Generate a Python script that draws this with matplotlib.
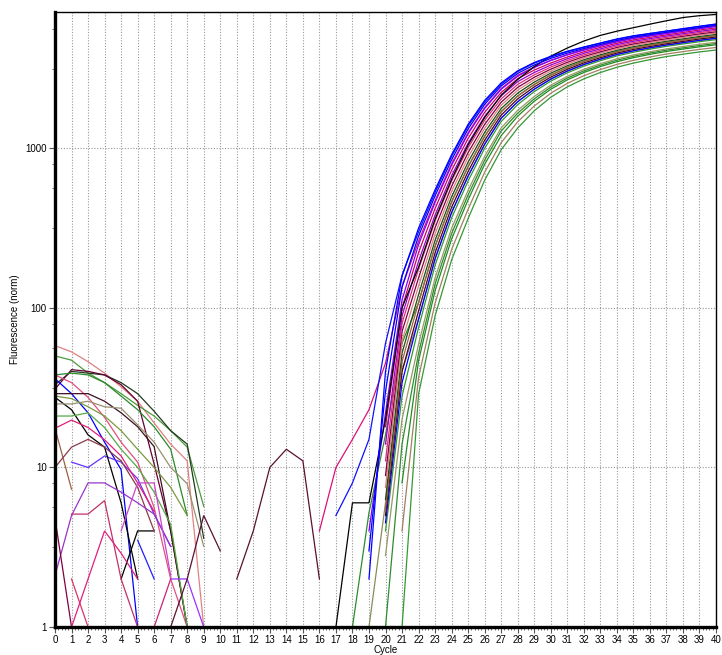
import numpy as np
import matplotlib
matplotlib.use("Agg")
import matplotlib.pyplot as plt
from matplotlib import ticker

plt.rcParams["font.family"] = ["Liberation Sans", "DejaVu Sans"]

# cycles 0..40, normalised fluorescence per well
cycles = np.arange(41)

# --- amplification part (start cycle, values) ---
amp_t000 = [2, 40, 158, 316, 550, 912, 1413, 1995, 2570, 3060, 3450, 3770, 4060, 4315, 4571, 4842, 5070, 5248, 5433, 5623, 5821, 6012]
amp_t005 = [3, 30, 135, 282, 504, 847, 1323, 1886, 2457, 2950, 3330, 3660, 3950, 4218, 4476, 4743, 4972, 5150, 5334, 5521, 5715, 5903]
amp_t010 = [4, 22, 112, 249, 458, 783, 1233, 1778, 2344, 2830, 3210, 3550, 3850, 4121, 4381, 4645, 4875, 5053, 5236, 5420, 5610, 5794]
amp_t015 = [18, 100, 222, 420, 728, 1154, 1681, 2238, 2731, 3092, 3425, 3733, 4028, 4290, 4556, 4781, 4960, 5141, 5322, 5509, 5683]
amp_t020 = [14, 89, 196, 382, 673, 1076, 1585, 2133, 2618, 2985, 3327, 3639, 3936, 4198, 4467, 4688, 4866, 5047, 5224, 5408, 5572]
amp_t025 = [11, 80, 175, 350, 625, 1008, 1499, 2039, 2514, 2885, 3230, 3549, 3847, 4110, 4376, 4598, 4776, 4955, 5130, 5310, 5471]
amp_t030 = [8.9, 71, 154, 318, 578, 940, 1413, 1945, 2410, 2786, 3133, 3459, 3758, 4023, 4285, 4508, 4686, 4864, 5035, 5212, 5370]
amp_t035 = [7.5, 62, 137, 291, 537, 880, 1336, 1860, 2314, 2693, 3045, 3374, 3673, 3939, 4198, 4421, 4599, 4776, 4944, 5117, 5273]
amp_t040 = [6.3, 52, 121, 265, 497, 820, 1259, 1774, 2218, 2600, 2958, 3289, 3589, 3855, 4111, 4335, 4512, 4688, 4853, 5023, 5176]
amp_t045 = [5.5, 46, 108, 243, 462, 768, 1190, 1694, 2130, 2513, 2875, 3207, 3508, 3774, 4032, 4250, 4428, 4603, 4765, 4932, 5080]
amp_t050 = [5, 40, 95.5, 221, 427, 716, 1122, 1614, 2042, 2427, 2793, 3126, 3428, 3694, 3954, 4165, 4345, 4519, 4677, 4842, 4984]
amp_t055 = [4.5, 34, 85, 203, 396, 670, 1061, 1543, 1960, 2346, 2714, 3049, 3350, 3617, 3873, 4082, 4264, 4437, 4592, 4749, 4890]
amp_t060 = [4, 28, 75.2, 185, 366, 625, 1000, 1472, 1879, 2265, 2636, 2972, 3273, 3540, 3793, 4000, 4184, 4355, 4508, 4656, 4797]
amp_t070 = [2.8, 20, 59.2, 154, 315, 546, 891, 1343, 1730, 2113, 2489, 2825, 3126, 3392, 3639, 3846, 4029, 4198, 4345, 4487, 4624]
amp_t075 = [1, 14, 52, 141, 292, 511, 842, 1284, 1661, 2042, 2416, 2755, 3055, 3321, 3565, 3772, 3954, 4122, 4266, 4406, 4540]
amp_t080 = [8, 46.6, 128, 270, 476, 794, 1200, 1592, 1972, 2344, 2685, 2985, 3251, 3491, 3698, 3880, 4046, 4188, 4325, 4457]
amp_t090 = [4, 36.6, 107, 232, 416, 708, 1085, 1466, 1841, 2213, 2553, 2851, 3116, 3357, 3556, 3736, 3899, 4036, 4169, 4285]
amp_t100 = [1, 28.8, 89, 200, 363, 631, 980, 1340, 1718, 2089, 2427, 2723, 2985, 3221, 3420, 3597, 3758, 3890, 4018, 4130]
amp_green18 = [1, 5.2, 16, 60, 108, 243, 462, 768, 1190, 1694, 2130, 2513, 2875, 3207, 3508, 3774, 4032, 4250, 4428, 4603, 4765, 4932, 5080]
amp_olive19 = [1, 6, 40, 85, 203, 396, 670, 1061, 1543, 1960, 2346, 2714, 3049, 3350, 3617, 3873, 4082, 4264, 4437, 4592, 4749, 4890]
amp_blue17 = [5, 8, 15, 60, 160, 300, 530, 890, 1380, 1950, 2520, 3030, 3420, 3740, 4030, 4290, 4550, 4820, 5050, 5230, 5410, 5600, 5800, 5990]
amp_magenta16 = [4, 10, 15, 23, 45, 135, 262, 470, 800, 1255, 1800, 2370, 2870, 3230, 3560, 3860, 4160, 4420, 4690, 4920, 5100, 5290, 5470, 5660, 5850]
amp_black17 = [1, 6, 6, 20, 100, 180, 360, 640, 1050, 1560, 2150, 2700, 3250, 3780, 4250, 4700, 5100, 5420, 5700, 6000, 6300, 6600, 6780, 6900]

# --- baseline noise part ---
n_salmon = [58, 53, 46, 39, 32, 26, 19, 14, 11, 1]
n_green1 = [50, 47, 39, 34, 29, 24.5, 21, 17, 13.4, 5.7]
n_darkgreen = [33, 40, 39, 38, 34, 29, 22.5, 17, 14, 3.6]
n_maroon1 = [31, 41, 40, 38, 33, 26, 10.5, 4, 1]
n_green2 = [38, 39, 38, 34, 28, 23, 18, 13, 5]
n_pink = [38, 34, 27.5, 20.6, 14.4, 10.8, 5.6, 2, 1]
n_blue = [36, 29, 22, 14.4, 9.7, 1]
n_blue2 = [3.5, 2]
n_violet = [10.8, 10, 11.8, 10.8, 8.5, 5.1, 3.2]
n_darkmaroon = [29, 29, 29, 26, 22, 18, 13.5, 4, 1]
n_black = [27.5, 23, 16, 13.4, 6, 2]
n_black2 = [2, 4, 4]
n_khaki = [25, 25, 26, 24, 23.5, 18.5, 14.4, 10, 7.9, 3.2]
n_green3 = [21, 21, 22, 17.8, 13, 10, 7, 4.4, 1]
n_magenta = [17.6, 19.8, 17.8, 14.9, 11.8, 8, 5.3]
n_brown = [17.6, 7.3]
n_brown2 = [10, 13.4, 15, 13.4, 11, 7.5, 4]
n_purple = [2.1, 5, 8, 8, 7, 6, 5.1, 3.2]
n_orchid = [4, 8, 8, 2.1]
n_crimson = [5.1, 5.1, 6.2, 2, 1]
n_maroon0 = [4.8, 1]
n_redpink = [2, 1]
n_pinkmag = [1, 2, 4, 2.9, 2]
n_bottom = [1, 1, 1, 2]
n_purple2 = [2, 2, 1]
n_maroon_a = [1, 2, 5, 3]
n_maroon_b = [2, 4, 10, 13, 11, 2]
n_olive2 = [28, 27, 24, 21, 17, 13, 10, 7.5, 5]

# (values, first cycle, colour) -- drawn in this order
series = [
    (n_salmon, 0, "#e08080"), (n_green1, 0, "#4c9a3c"), (n_darkgreen, 0, "#203a20"),
    (n_maroon1, 0, "#660033"), (n_green2, 0, "#2a8a2a"), (n_pink, 0, "#e05080"),
    (n_blue, 0, "#0000ff"), (n_blue2, 5, "#2020ff"), (n_violet, 1, "#6633ff"),
    (n_darkmaroon, 0, "#3d0f24"), (n_black, 0, "#000000"), (n_black2, 4, "#000000"),
    (n_khaki, 0, "#999070"), (n_green3, 0, "#55aa44"), (n_magenta, 0, "#e0207a"),
    (n_brown, 0, "#a06040"), (n_brown2, 0, "#8b3a4a"), (n_purple, 0, "#9933cc"),
    (n_orchid, 4, "#cc44cc"), (n_crimson, 1, "#c0306a"), (n_maroon0, 0, "#800040"),
    (n_redpink, 1, "#dd3366"), (n_pinkmag, 1, "#e0207a"), (n_bottom, 4, "#cc2277"),
    (n_purple2, 7, "#9933ff"), (n_maroon_a, 7, "#5a1030"), (n_maroon_b, 11, "#5a1030"),
    (n_olive2, 0, "#7a9a40"),
    (amp_t100, 21, "#339933"), (amp_t090, 21, "#a08060"), (amp_t080, 21, "#228b22"),
    (amp_t075, 20, "#2e8b2e"), (amp_t070, 20, "#999966"), (amp_t060, 20, "#339933"),
    (amp_olive19, 19, "#8b8b5a"), (amp_green18, 18, "#2e8b2e"),
    (amp_t055, 20, "#0000ff"), (amp_t050, 20, "#4d0026"), (amp_t045, 20, "#a0603c"),
    (amp_t040, 20, "#1a4d1a"), (amp_t035, 20, "#e08080"), (amp_t030, 20, "#800040"),
    (amp_t025, 20, "#e0307a"), (amp_t020, 20, "#9900cc"), (amp_t015, 20, "#cc0066"),
    (amp_magenta16, 16, "#dd1177"), (amp_t010, 19, "#7f00ff"),
    (amp_black17, 17, "#000000"), (amp_blue17, 17, "#1010ff"),
    (amp_t005, 19, "#0000ff"), (amp_t000, 19, "#0000ff"),
]

fig = plt.figure(figsize=(7.22, 6.55), dpi=100)
ax = fig.add_axes([55 / 722, 1 - 627 / 655, 661 / 722, 615 / 655])

for vals, start, color in series:
    x = cycles[start:start + len(vals)]
    ax.plot(x, vals, color=color, lw=0.9, solid_joinstyle="miter")

ax.set_yscale("log")
ax.set_xlim(0, 40)
ax.set_ylim(1, 7150)

ax.xaxis.set_major_locator(ticker.MultipleLocator(1))
ax.xaxis.set_minor_locator(ticker.MultipleLocator(0.2))
ax.yaxis.set_major_locator(ticker.FixedLocator([1, 10, 100, 1000]))
ax.yaxis.set_major_formatter(ticker.FixedFormatter(["1", "10", "100", "1000"]))
minor_y = [10 ** (k - f) for k in range(1, 5) for f in (0.1, 0.25, 0.5)]
ax.yaxis.set_minor_locator(ticker.FixedLocator(minor_y))
ax.yaxis.set_minor_formatter(ticker.NullFormatter())

ax.tick_params(which="major", length=4, width=0.8, labelsize=7, pad=2, color="#555555")
ax.tick_params(which="minor", length=2, width=0.6, color="#555555")

ax.grid(True, which="major", color="#999999", linestyle=(0, (1, 1.5)), linewidth=0.8)
ax.set_axisbelow(True)

for side in ("left", "bottom"):
    ax.spines[side].set_linewidth(2.4)
for side in ("top", "right"):
    ax.spines[side].set_linewidth(1.0)

ax.set_xlabel("Cycle", fontsize=7, labelpad=0)
ax.set_ylabel("Fluorescence (norm)", fontsize=7, labelpad=4)

fig.savefig("out.png", dpi=100)
